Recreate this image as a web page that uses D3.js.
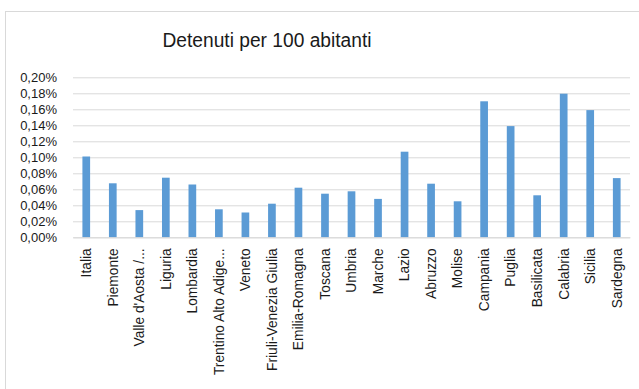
<!DOCTYPE html>
<html><head><meta charset="utf-8">
<script src="https://cdn.jsdelivr.net/npm/d3@7"></script>
<style>body{margin:0;background:#fff;}svg{display:block;}</style>
</head><body>
<svg id="c" width="639" height="389"></svg>
<script>
const categories = ["Italia","Piemonte","Valle d'Aosta /...","Liguria","Lombardia","Trentino Alto Adige...","Veneto","Friuli-Venezia Giulia","Emilia-Romagna","Toscana","Umbria","Marche","Lazio","Abruzzo","Molise","Campania","Puglia","Basilicata","Calabria","Sicilia","Sardegna"];
const values = [0.101,0.0675,0.034,0.0745,0.066,0.035,0.031,0.042,0.062,0.0545,0.0575,0.048,0.107,0.067,0.045,0.170,0.139,0.0525,0.1795,0.159,0.074];
const yTicks = [0,0.02,0.04,0.06,0.08,0.10,0.12,0.14,0.16,0.18,0.20];
const title = "Detenuti per 100 abitanti";

const svg = d3.select("#c");
const font = "'Liberation Sans', Arial, sans-serif";
svg.append("rect").attr("x",5.5).attr("y",11.5).attr("width",700).attr("height",500)
  .attr("fill","none").attr("stroke","#d9d9d9");

const x = d3.scaleBand().domain(categories).range([73,630]).paddingInner(0.71).paddingOuter(0.355);
const y = d3.scaleLinear().domain([0,0.2]).range([237.3,77.3]);

svg.append("text").attr("x",267).attr("y",47).attr("text-anchor","middle")
  .attr("font-family",font).attr("font-size",20).attr("fill","#1a1a1a")
  .attr("textLength",209).attr("lengthAdjust","spacingAndGlyphs").text(title);

const ga = svg.append("g").attr("transform","translate(73,0)")
  .call(d3.axisLeft(y).tickValues(yTicks).tickSize(-557).tickPadding(16)
    .tickFormat(d => d3.format(".2f")(d).replace(".",",") + "%"));
ga.select(".domain").remove();
ga.selectAll(".tick line").attr("stroke","#d9d9d9").attr("stroke-width",1);
ga.selectAll(".tick text").attr("font-family",font).attr("font-size",13).attr("fill","#1a1a1a");

svg.append("g").selectAll("rect").data(values).join("rect")
  .attr("x",(d,i)=>x(categories[i])).attr("width",x.bandwidth())
  .attr("y",d=>y(d)).attr("height",d=>y(0)-y(d)).attr("fill","#5b9bd5");

const gx = svg.append("g").attr("transform",`translate(0,${y(0)})`)
  .call(d3.axisBottom(x).tickSize(0).tickPadding(0));
gx.select(".domain").attr("stroke","#d9d9d9");
gx.selectAll(".tick text").attr("font-family",font).attr("font-size",13.8).attr("fill","#1a1a1a")
  .attr("text-anchor","end").attr("transform","rotate(-90)").attr("x",-11).attr("y",0).attr("dy","0.35em");
</script>
</body></html>
